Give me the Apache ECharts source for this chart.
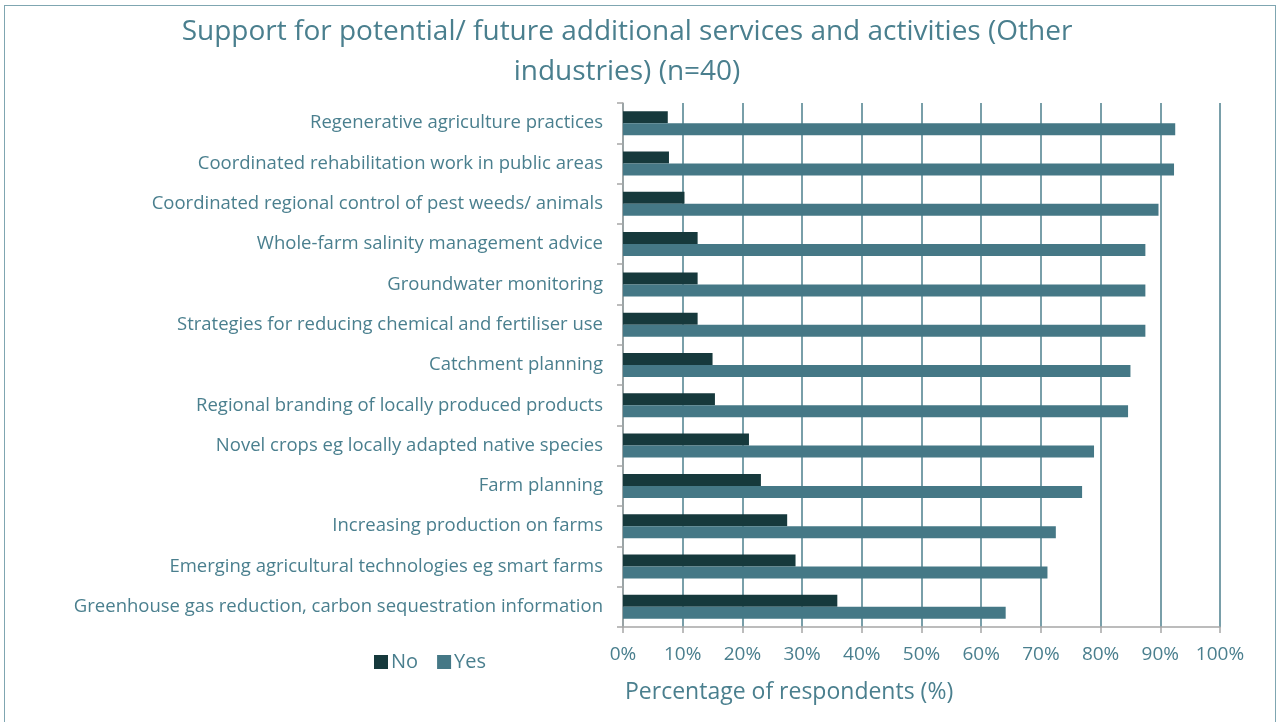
<!DOCTYPE html>
<html>
<head>
<meta charset="utf-8">
<script src="https://cdn.jsdelivr.net/npm/echarts@6/dist/echarts.min.js"></script>
<style>
  html, body { margin: 0; padding: 0; background: #ffffff; }
  #frame { position: absolute; left: 4px; top: 5px; width: 1272px; height: 720px; border: 1px solid #7fa6b1; box-sizing: border-box; }
  #chart { position: absolute; left: 0; top: 0; width: 1280px; height: 722px; }
</style>
</head>
<body>
<div id="frame"></div>
<div id="chart"></div>
<script>
// Activities, listed top to bottom
const categories = [
  'Regenerative agriculture practices',
  'Coordinated rehabilitation work in public areas',
  'Coordinated regional control of pest weeds/ animals',
  'Whole-farm salinity management advice',
  'Groundwater monitoring',
  'Strategies for reducing chemical and fertiliser use',
  'Catchment planning',
  'Regional branding of locally produced products',
  'Novel crops eg locally adapted native species',
  'Farm planning',
  'Increasing production on farms',
  'Emerging agricultural technologies eg smart farms',
  'Greenhouse gas reduction, carbon sequestration information'
];
// Share of respondents (%)
const noValues  = [7.5, 7.7, 10.3, 12.5, 12.5, 12.5, 15.0, 15.4, 21.1, 23.1, 27.5, 28.9, 35.9];
const yesValues = [92.5, 92.3, 89.7, 87.5, 87.5, 87.5, 85.0, 84.6, 78.9, 76.9, 72.5, 71.1, 64.1];
const xTicks = [0, 10, 20, 30, 40, 50, 60, 70, 80, 90, 100];

const FONT = 'Open Sans';
const TEXT = '#4a7f8e';

const chart = echarts.init(document.getElementById('chart'), null, { renderer: 'canvas' });
chart.setOption({
  animation: false,
  textStyle: { fontFamily: FONT },
  title: {
    text: 'Support for potential/ future additional services and activities (Other\nindustries) (n=40)',
    left: 622, top: 7, textAlign: 'center',
    textStyle: { fontFamily: FONT, fontSize: 28, fontWeight: 'normal', color: TEXT, lineHeight: 40 }
  },
  legend: {
    left: 369, top: 647,
    itemWidth: 14, itemHeight: 14, itemGap: 19,
    icon: 'rect',
    textStyle: { fontFamily: FONT, fontSize: 20, color: TEXT, padding: [0, 0, 0, -2] },
    data: ['No', 'Yes']
  },
  graphic: [{
    type: 'text', left: 625, top: 681,
    style: { text: 'Percentage of respondents (%)', font: '23px "Open Sans"', fill: TEXT }
  }],
  grid: { left: 623, right: 60, top: 103, bottom: 95, containLabel: false },
  xAxis: {
    type: 'value', min: xTicks[0], max: xTicks[xTicks.length - 1], interval: 10,
    axisLine: { show: true, lineStyle: { color: '#a6a6a6', width: 1.5 } },
    axisTick: { show: true, length: 6, lineStyle: { color: '#a6a6a6', width: 1.5 } },
    axisLabel: { fontFamily: FONT, fontSize: 19, color: TEXT, margin: 18, formatter: v => v + '%' },
    splitLine: { show: true, lineStyle: { color: '#4d7f8d', width: 1.5 } }
  },
  yAxis: {
    type: 'category', inverse: true, data: categories,
    axisLine: { show: true, lineStyle: { color: '#a6a6a6', width: 1.5 } },
    axisTick: { show: true, length: 6, lineStyle: { color: '#a6a6a6', width: 1.5 } },
    axisLabel: { fontFamily: FONT, fontSize: 18.5, color: TEXT, margin: 20 }
  },
  series: [
    { name: 'No', type: 'bar', data: noValues, itemStyle: { color: '#16393c' },
      barWidth: 12, barGap: '0%' },
    { name: 'Yes', type: 'bar', data: yesValues, itemStyle: { color: '#457886' },
      barWidth: 12, barGap: '0%' }
  ]
});
</script>
</body>
</html>
